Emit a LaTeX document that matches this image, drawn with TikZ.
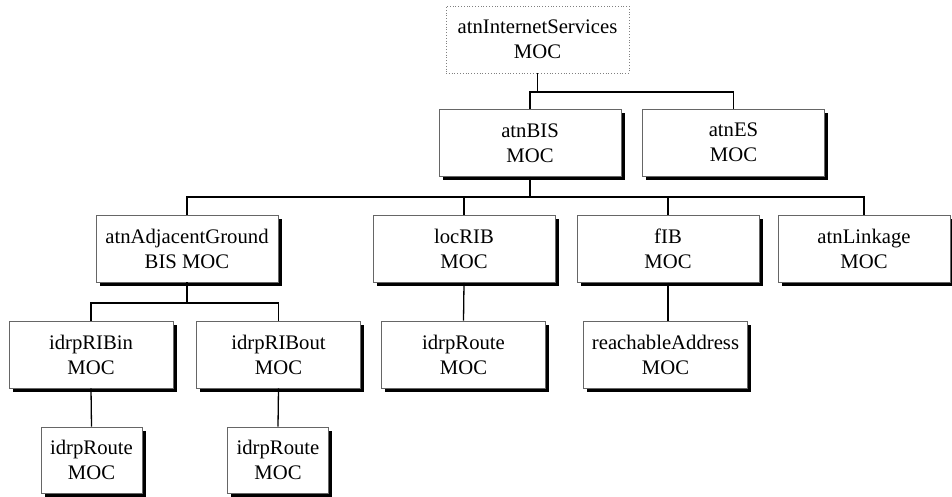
\documentclass[tikz,border=0pt]{standalone}
\usepackage{fontspec}
\setmainfont{Liberation Serif}
\usetikzlibrary{shadows}
\tikzset{moc/.style={draw=gray!80!black,fill=white,align=center,inner sep=0pt,minimum width=91pt,minimum height=33.5pt,
    drop shadow={shadow xshift=1.8pt,shadow yshift=-1.8pt,fill=black,opacity=1}},
  leaf/.style={moc,minimum width=82pt},
  small/.style={moc,minimum width=50.5pt,minimum height=33pt},
  abstract/.style={draw=gray,densely dotted,fill=white,align=center,inner sep=0pt,minimum width=91.5pt,minimum height=33.5pt},
  link/.style={line width=0.65pt}}

\begin{document}
\begin{tikzpicture}[x=0.5pt,y=-0.5pt,font=\fontsize{10.35}{12.5}\selectfont]
\useasboundingbox (0,0) rectangle (952,497);
\node[abstract] (inet) at (537.5,39.5){atnInternetServices\\MOC};
\node[moc] (bis) at (530,143){atnBIS\\MOC};
\node[moc] (es) at (733.5,142.5){atnES\\MOC};
\node[moc] (adj) at (187,248.5){atnAdjacentGround\\BIS MOC};
\node[moc] (loc) at (464,249){locRIB\\MOC};
\node[moc] (fib) at (668,249){fIB\\MOC};
\node[moc,minimum width=86pt] (lnk) at (864,249){atnLinkage\\MOC};
\node[leaf] (rin) at (91,354.5){idrpRIBin\\MOC};
\node[leaf] (rout) at (278.5,354.5){idrpRIBout\\MOC};
\node[leaf] (lroute) at (463.5,354.5){idrpRoute\\MOC};
\node[leaf] (reach) at (665.5,354.5){reachableAddress\\MOC};
\node[small] (inroute) at (91.5,460){idrpRoute\\MOC};
\node[small] (outroute) at (278,460){idrpRoute\\MOC};
\coordinate (bus1) at (0,92);
\coordinate (bus2) at (0,197);
\coordinate (bus3) at (0,303);
\draw[link] (inet.south) -- (inet.south |- bus1) (bis.north) |- (bus1 -| es.north) -- (es.north);
\draw[link] (bis.south) -- (bis.south |- bus2) (adj.north) |- (bus2 -| lnk.north) -- (lnk.north);
\foreach \n in {loc,fib} \draw[link] (\n.north) -- (\n.north |- bus2);
\draw[link] (adj.south) -- (adj.south |- bus3) (rin.north) |- (bus3 -| rout.north) -- (rout.north);
\draw[link] (loc.south) -- (lroute.north);
\draw[link] (fib.south) -- (fib.south |- reach.north);
\draw[link] (rin.south) -- (inroute.north);
\draw[link] (rout.south) -- (outroute.north);
\end{tikzpicture}
\end{document}
